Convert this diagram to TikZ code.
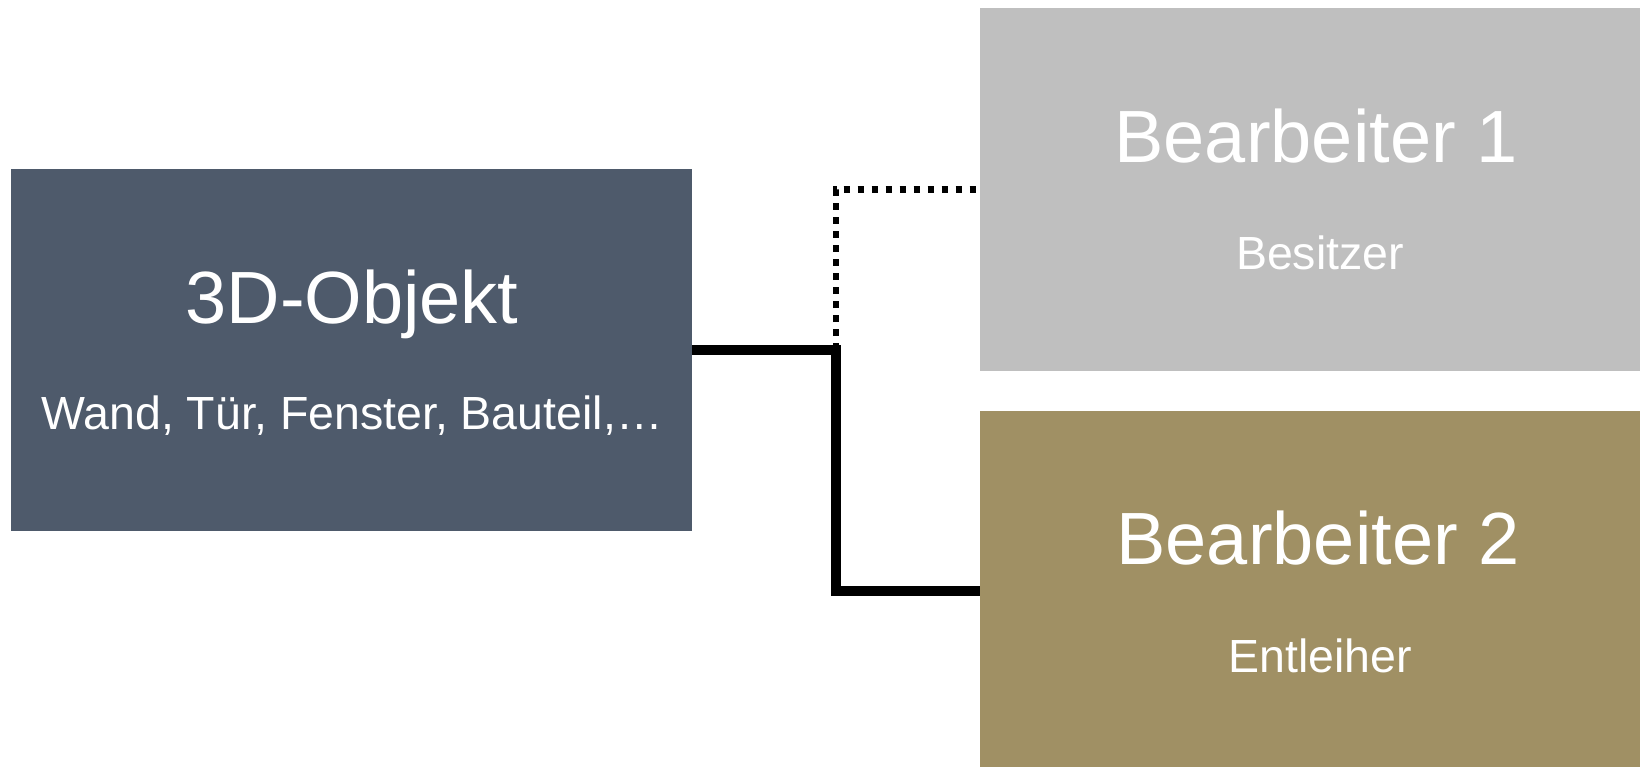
\documentclass[tikz,border=0pt]{standalone}
\usepackage{fontspec}
\setmainfont{Liberation Sans}
\usetikzlibrary{positioning}
\definecolor{slate}{HTML}{4E5A6B}
\definecolor{ashgrey}{HTML}{BFBFBF}
\definecolor{olivegold}{HTML}{A09064}
\begin{document}
\begin{tikzpicture}[x=1pt,y=-1pt,
  box/.style={rectangle,inner sep=0pt,draw=none},
  title/.style={anchor=base,text=white,font=\fontsize{74}{80}\selectfont},
  sub/.style={anchor=base,text=white,font=\fontsize{46.5}{50}\selectfont},
  link/.style={line width=10.5pt},
  dotlink/.style={line width=6.7pt,dash pattern=on 6.7pt off 7.3pt}]
  \useasboundingbox (0,0) rectangle (1640,767);
  \clip (0,0) rectangle (1640,767);
  \node at (351.5,350) [box,fill=slate,minimum width=681pt,minimum height=362pt] (obj) {};
  \node at (1318,189.5) [box,fill=ashgrey,minimum width=676pt,minimum height=363pt] (b1) {};
  \node at (1318,591) [box,fill=olivegold,minimum width=676pt,minimum height=360pt] (b2) {};
  \node at (352,323.5) [title] (objname) {3D-Objekt};
  \node at (352,429.5) [sub] (objkind) {Wand, Tür, Fenster, Bauteil,…};
  \node at (1316,163) [title] (b1name) {Bearbeiter 1};
  \node at (1320,269.5) [sub] (b1role) {Besitzer};
  \node at (1318,564.5) [title] (b2name) {Bearbeiter 2};
  \node at (1320,672) [sub] (b2role) {Entleiher};
  \coordinate (jn) at (836,350);
  \draw [dotlink] (jn) |- (b1.west);
  \draw [link] (obj.east) -- (jn) |- (b2.west);
\end{tikzpicture}
\end{document}
